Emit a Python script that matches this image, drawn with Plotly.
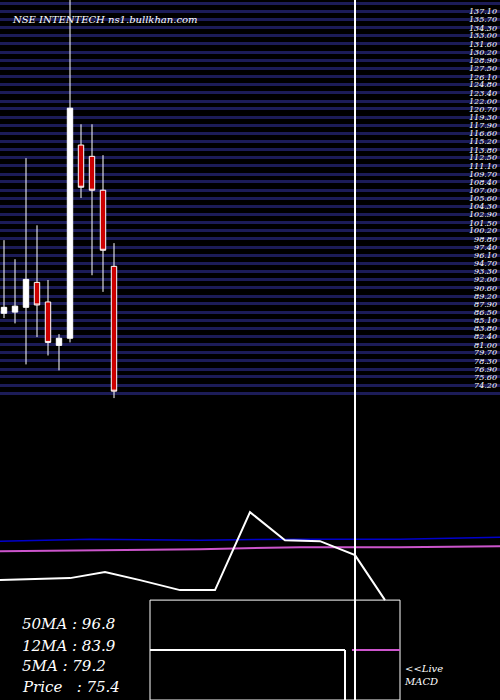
import plotly.graph_objects as go

# candles (x in pixel-like units)
cx = [4, 15, 26, 37, 48, 59, 70, 81, 92, 103, 114]
op = [86.3, 86.5, 87.3, 91.5, 88.2, 80.9, 82.1, 114.6, 112.7, 107.0, 94.2]
hi = [98.6, 95.4, 112.4, 101.1, 91.9, 82.8, 145.0, 118.1, 118.1, 112.9, 98.1]
lo = [85.5, 84.6, 77.7, 82.3, 79.2, 76.7, 81.4, 105.7, 92.7, 89.9, 72.0]
cl = [87.3, 87.5, 92.0, 87.7, 81.4, 82.1, 120.8, 107.5, 107.0, 96.9, 73.2]

price_ticks = [138.4, 137.1, 135.7, 134.3, 133.0, 131.6, 130.2, 128.9, 127.5, 126.1,
               124.8, 123.4, 122.0, 120.7, 119.3, 117.9, 116.6, 115.2, 113.8, 112.5,
               111.1, 109.7, 108.4, 107.0, 105.6, 104.3, 102.9, 101.5, 100.2, 98.8,
               97.4, 96.1, 94.7, 93.3, 92.0, 90.6, 89.2, 87.9, 86.5, 85.1,
               83.8, 82.4, 81.0, 79.7, 78.3, 76.9, 75.6, 74.2, 72.8]

# lower indicator panel (y in panel units, inverted)
ind_x = [0, 90, 200, 300, 400, 500]
blue_y = [541, 539, 540, 539, 539, 537]
pink_y = [551, 550, 549, 547, 547, 546]
macd_x = [0, 70, 105, 140, 180, 215, 250, 285, 320, 355, 385]
macd_y = [580, 578, 572, 580, 590, 590, 512, 540, 541, 555, 600]

info = ["50MA : 96.8", "12MA : 83.9", "5MA : 79.2", "Price   : 75.4"]
info_y = [624, 646, 666, 687]

fig = go.Figure()
fig.add_trace(go.Candlestick(
    x=cx, open=op, high=hi, low=lo, close=cl,
    increasing=dict(line=dict(color="white", width=1), fillcolor="white"),
    decreasing=dict(line=dict(color="white", width=1), fillcolor="#cc0000"),
    whiskerwidth=0, showlegend=False))
fig.add_trace(go.Scatter(x=ind_x, y=blue_y, yaxis="y2", mode="lines",
                         line=dict(color="#0000cc", width=1.5), showlegend=False))
fig.add_trace(go.Scatter(x=ind_x, y=pink_y, yaxis="y2", mode="lines",
                         line=dict(color="#cc55cc", width=2), showlegend=False))
fig.add_trace(go.Scatter(x=macd_x, y=macd_y, yaxis="y2", mode="lines",
                         line=dict(color="white", width=2), showlegend=False))

fig.update_layout(
    width=500, height=700, autosize=False, margin=dict(l=0, r=0, t=0, b=0, pad=0),
    paper_bgcolor="black", plot_bgcolor="black",
    xaxis=dict(range=[0, 500], visible=False, rangeslider=dict(visible=False),
               fixedrange=True, automargin=False),
    yaxis=dict(domain=[0.431, 1], range=[72, 139], side="right", tickvals=price_ticks,
               ticktext=[f"<i>{v:.2f}</i>" for v in price_ticks], ticklabelposition="inside",
               tickfont=dict(color="white", size=8, family="DejaVu Serif"),
               showgrid=True, gridcolor="#1c1c58", gridwidth=3, zeroline=False,
               automargin=False),
    yaxis2=dict(domain=[0, 0.431], range=[700, 398], visible=False, showgrid=False,
                automargin=False),
    font=dict(family="DejaVu Serif", color="white"),
)

fig.add_annotation(text="<i>NSE INTENTECH ns1.bullkhan.com</i>", xref="paper", yref="paper",
                   x=0.02, y=0.983, xanchor="left", showarrow=False, font=dict(size=10))
for t, yy in zip(info, info_y):
    fig.add_annotation(text=f"<i>{t}</i>", x=20, y=yy, xref="x", yref="y2",
                       xanchor="left", showarrow=False, font=dict(size=15))
fig.add_annotation(text="<i><<Live<br>MACD</i>", x=402, y=675, xref="x", yref="y2",
                   xanchor="left", showarrow=False, align="left", font=dict(size=10))

fig.add_shape(type="rect", x0=150, x1=400, y0=600, y1=700, xref="x", yref="y2",
              line=dict(color="white", width=1))
fig.add_shape(type="line", x0=150, x1=345, y0=650, y1=650, xref="x", yref="y2",
              line=dict(color="white", width=2))
fig.add_shape(type="line", x0=345, x1=345, y0=650, y1=700, xref="x", yref="y2",
              line=dict(color="white", width=2))
fig.add_shape(type="line", x0=352, x1=400, y0=650, y1=650, xref="x", yref="y2",
              line=dict(color="#cc55cc", width=2))
fig.add_shape(type="line", x0=355, x1=355, y0=0, y1=1, xref="x", yref="paper",
              line=dict(color="white", width=2))

fig.write_html("out.html", config={"displayModeBar": False},
               post_script="document.body.style.margin='0';")
